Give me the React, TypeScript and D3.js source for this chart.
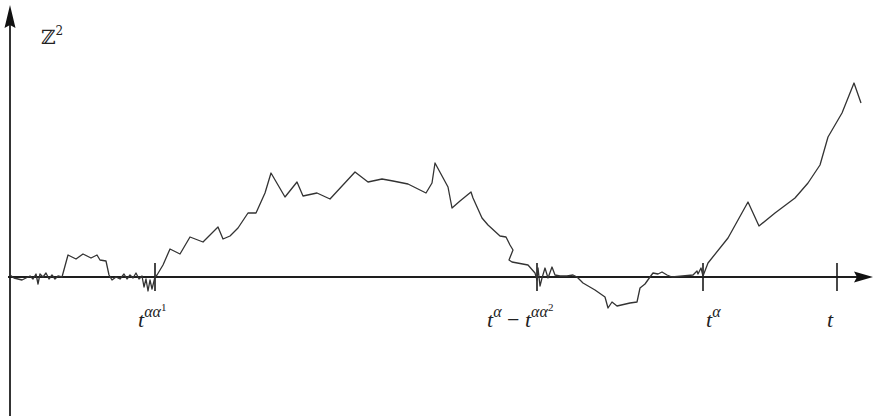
import React from 'react';
import * as d3 from 'd3';

const W = 876;
const H = 416;

// path samples: time (horizontal units) and Z^2 value (vertical units, 0 = time axis)
const times = [
  10, 14, 18, 22, 26, 30, 33, 36, 38, 40, 43, 46, 49, 52, 55, 58, 62,
  68, 76, 83, 91, 97, 100, 106, 109,
  112, 116, 120, 124, 127, 130, 133, 136, 139, 142, 144, 146, 148, 150, 152, 155,
  157, 163, 170, 180, 190, 203, 218, 223, 230, 238, 248, 256, 265, 271, 285, 297, 303, 317, 330, 355, 368, 382, 393, 408, 426, 432, 435, 448, 452, 460, 471, 473, 482, 488, 500, 506, 510, 513, 509, 512, 528, 535,
  537, 538, 540, 542, 545, 548, 552, 555, 560, 567, 573, 577,
  583, 595, 605, 608, 612, 617, 630, 637, 640, 645, 650, 653, 658, 662, 667, 672, 693, 697, 698, 701, 703,
  708, 728, 748, 759, 775, 795, 808, 820, 828, 842, 854, 861,
];
const values = [
  2, -1, -2, -3, -1, 1, -2, 3, -7, 3, 0, 4, -2, 2, -2, 1, 0,
  22, 18, 23, 19, 22, 17, 16, 2,
  -3, 0, -2, 3, -2, 2, -1, 4, -2, 1, -10, -2, -14, -3, -12, 0,
  2, 12, 28, 23, 40, 35, 50, 38, 41, 49, 64, 64, 84, 104, 80, 95, 81, 84, 78, 105, 95, 98, 96, 93, 84, 94, 114, 90, 69, 76, 85, 79, 59, 52, 41, 40, 32, 27, 17, 15, 12, 4,
  -3, 9, -9, -1, 9, -1, 10, 2, 1, 1, 2, 0,
  -6, -13, -20, -31, -25, -29, -26, -25, -11, -7, 0, 4, 3, 5, 2, 0, 2, 6, 3, 9, 1,
  14, 39, 75, 51, 64, 79, 94, 112, 140, 164, 194, 174,
];

// special times marked on the axis
const tickTimes = [155, 537, 703, 837];
// where each label starts (time units)
const labelStarts = [138, 487, 706, 827];
// label pieces: level 0 = baseline, 1 = superscript, 2 = super-superscript
const tickLabels: { s: string; level: number; italic: boolean }[][] = [
  [
    { s: 't', level: 0, italic: true },
    { s: 'αα', level: 1, italic: true },
    { s: '1', level: 2, italic: false },
  ],
  [
    { s: 't', level: 0, italic: true },
    { s: 'α', level: 1, italic: true },
    { s: ' − ', level: 0, italic: false },
    { s: 't', level: 0, italic: true },
    { s: 'αα', level: 1, italic: true },
    { s: '2', level: 2, italic: false },
  ],
  [
    { s: 't', level: 0, italic: true },
    { s: 'α', level: 1, italic: true },
  ],
  [{ s: 't', level: 0, italic: true }],
];

const yLabel = 'ℤ';
const yLabelSup = '2';

const levelSize = [22, 16, 11];
const levelRise = [0, 10, 16];

export default function App() {
  const x = d3.scaleLinear().domain([0, W]).range([0, W]);
  const y = d3.scaleLinear().domain([-139, 277]).range([H, 0]);
  const x0 = x(10);
  const y0 = y(0);

  const pts: [number, number][] = times.map((t, i) => [t, values[i]]);
  const line = d3
    .line<[number, number]>()
    .x((d) => x(d[0]))
    .y((d) => y(d[1]))
    .curve(d3.curveLinear);

  const font = "'Liberation Serif', 'DejaVu Serif', serif";

  return (
    <svg
      width={W}
      height={H}
      style={{ position: 'absolute', left: 0, top: 0, background: '#fff' }}
    >
      {/* time axis */}
      <line x1={x(8)} x2={x(858)} y1={y0} y2={y0} stroke="#1e1e1e" strokeWidth={1.8} />
      <path
        d={`M${x(873)},${y0} L${x(854)},${y0 - 5.5} L${x(857)},${y0} L${x(854)},${y0 + 5.5} Z`}
        fill="#111"
      />
      {/* vertical axis */}
      <line x1={x0} x2={x0} y1={y(252)} y2={H} stroke="#1e1e1e" strokeWidth={1.8} />
      <path
        d={`M${x0},${y(272)} L${x0 - 5.5},${y(249)} L${x0},${y(252)} L${x0 + 5.5},${y(249)} Z`}
        fill="#111"
      />

      {/* tick marks */}
      {tickTimes.map((t, i) => (
        <line
          key={i}
          x1={x(t)}
          x2={x(t)}
          y1={y(14)}
          y2={y(-14)}
          stroke="#1a1a1a"
          strokeWidth={1.6}
        />
      ))}

      {/* path */}
      <path
        d={line(pts) || ''}
        fill="none"
        stroke="#333"
        strokeWidth={1.3}
        strokeLinejoin="round"
      />

      {/* tick labels */}
      {tickLabels.map((parts, i) => {
        let prev = 0;
        return (
          <text
            key={i}
            x={x(labelStarts[i])}
            y={y(-50)}
            fontFamily={font}
            fill="#222"
          >
            {parts.map((p, j) => {
              const dy = -(levelRise[p.level] - levelRise[prev]);
              prev = p.level;
              return (
                <tspan
                  key={j}
                  dy={dy}
                  fontSize={levelSize[p.level]}
                  fontStyle={p.italic ? 'italic' : 'normal'}
                  style={{ whiteSpace: 'pre' }}
                >
                  {p.s}
                </tspan>
              );
            })}
          </text>
        );
      })}

      {/* y label */}
      <text x={x(41)} y={y(233)} fontFamily="'DejaVu Serif', serif" fill="#222">
        <tspan fontSize={20}>{yLabel}</tspan>
        <tspan fontSize={12} dy={-9}>
          {yLabelSup}
        </tspan>
      </text>
    </svg>
  );
}
